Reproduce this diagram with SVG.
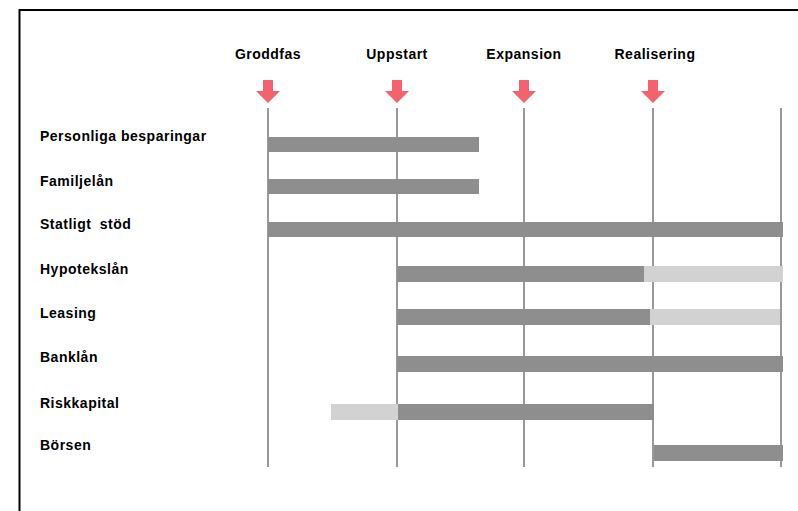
<svg xmlns="http://www.w3.org/2000/svg" width="798" height="511" viewBox="0 0 798 511">
  <defs>
    <style>
      .lbl { font-family: "Liberation Sans", Arial, sans-serif; font-size: 14px; font-weight: bold; letter-spacing: 0.5px; fill: #000; }
      .hdr { text-anchor: middle; }
      .grid { stroke: #999; stroke-width: 2; }
      .main { fill: #8e8e8e; }
      .opt { fill: #d2d2d2; }
      .arrow { fill: #f2636e; }
    </style>
    <path id="down" d="M -5 0 H 5 V 11 H 12 L 0 23 L -12 11 H -5 Z"/>
  </defs>

  <rect x="0" y="0" width="798" height="511" fill="#fff"/>
  <!-- frame (runs off the right and bottom edges) -->
  <rect x="19.5" y="10" width="800" height="520" fill="none" stroke="#000" stroke-width="2"/>

  <!-- phase headers with markers -->
  <g id="phase-groddfas">
    <text class="lbl hdr" x="268" y="59">Groddfas</text>
    <use href="#down" class="arrow" x="268" y="80"/>
  </g>
  <g id="phase-uppstart">
    <text class="lbl hdr" x="397" y="59">Uppstart</text>
    <use href="#down" class="arrow" x="397" y="80"/>
  </g>
  <g id="phase-expansion">
    <text class="lbl hdr" x="524" y="59">Expansion</text>
    <use href="#down" class="arrow" x="524" y="80"/>
  </g>
  <g id="phase-realisering">
    <text class="lbl hdr" x="655" y="59">Realisering</text>
    <use href="#down" class="arrow" x="653" y="80"/>
  </g>

  <!-- phase boundaries -->
  <g id="grid">
    <line class="grid" x1="268" y1="108" x2="268" y2="467"/>
    <line class="grid" x1="397" y1="108" x2="397" y2="467"/>
    <line class="grid" x1="524" y1="108" x2="524" y2="467"/>
    <line class="grid" x1="653" y1="108" x2="653" y2="467"/>
    <line class="grid" x1="781" y1="108" x2="781" y2="467"/>
  </g>

  <!-- financing sources -->
  <g id="personliga-besparingar">
    <text class="lbl" x="40" y="141">Personliga besparingar</text>
    <rect class="main" x="268" y="137" width="211" height="15"/>
  </g>
  <g id="familjelan">
    <text class="lbl" x="40" y="186">Familjelån</text>
    <rect class="main" x="268" y="179" width="211" height="15"/>
  </g>
  <g id="statligt-stod">
    <text class="lbl" x="40" y="229" word-spacing="4">Statligt stöd</text>
    <rect class="main" x="268" y="222" width="515" height="15"/>
  </g>
  <g id="hypoteksl">
    <text class="lbl" x="40" y="274">Hypotekslån</text>
    <rect class="main" x="397" y="266" width="247" height="16"/>
    <rect class="opt" x="644" y="266" width="139" height="16"/>
  </g>
  <g id="leasing">
    <text class="lbl" x="40" y="318">Leasing</text>
    <rect class="main" x="397" y="309" width="253" height="16"/>
    <rect class="opt" x="650" y="309" width="130" height="16"/>
  </g>
  <g id="banklan">
    <text class="lbl" x="40" y="362">Banklån</text>
    <rect class="main" x="397" y="356" width="386" height="16"/>
  </g>
  <g id="riskkapital">
    <text class="lbl" x="40" y="408">Riskkapital</text>
    <rect class="opt" x="331" y="404" width="67" height="16"/>
    <rect class="main" x="398" y="404" width="256" height="16"/>
  </g>
  <g id="borsen">
    <text class="lbl" x="40" y="450">Börsen</text>
    <rect class="main" x="654" y="445" width="129" height="16"/>
  </g>
</svg>
